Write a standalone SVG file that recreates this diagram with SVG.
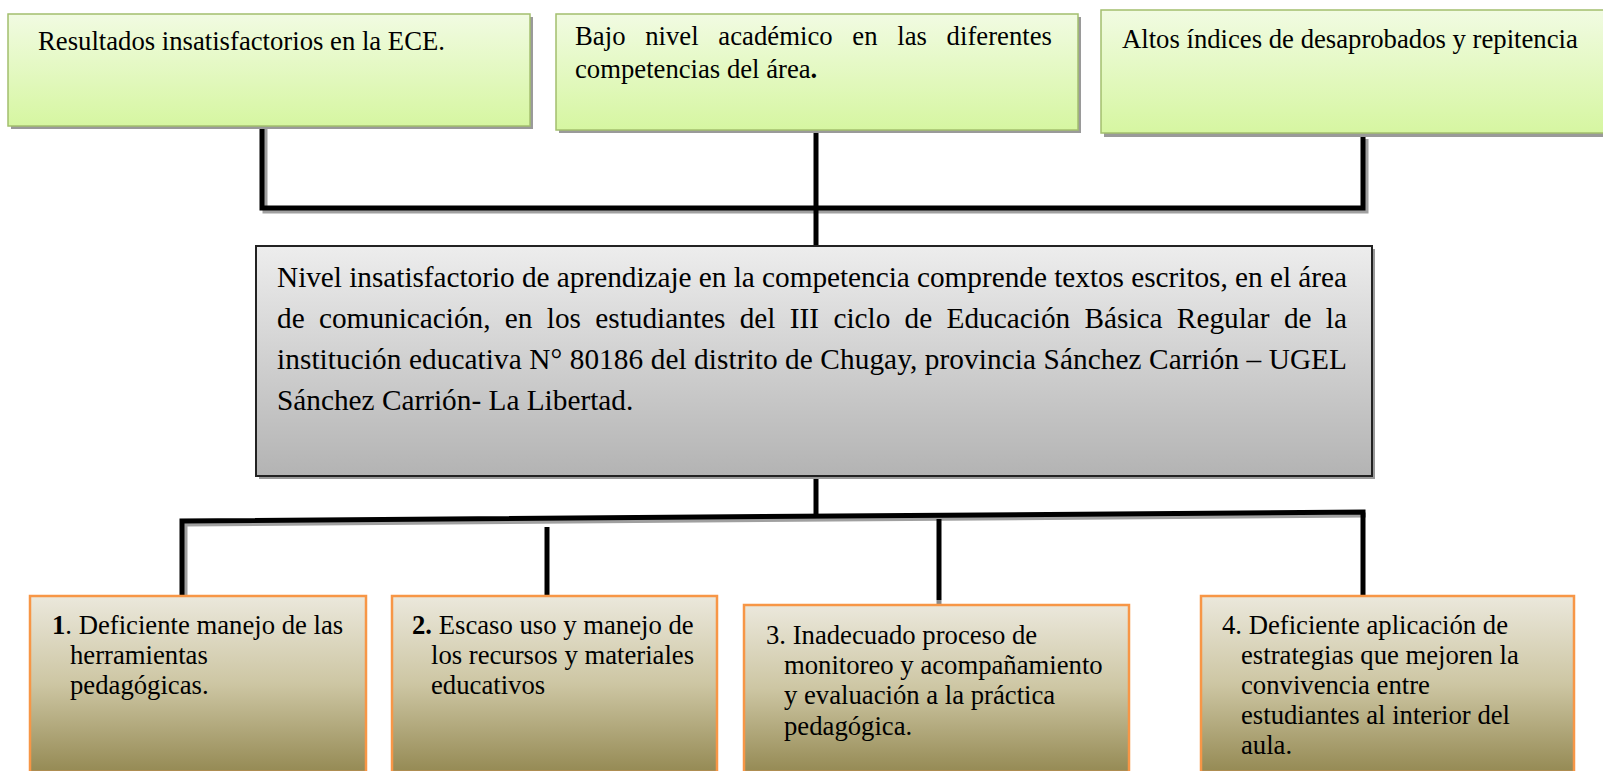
<svg xmlns="http://www.w3.org/2000/svg" width="1603" height="771" viewBox="0 0 1603 771">
<defs>
<linearGradient id="gGreen" x1="0" y1="0" x2="0" y2="1">
<stop offset="0" stop-color="#f1fbe2"/>
<stop offset="1" stop-color="#d6f6a1"/>
</linearGradient>
<linearGradient id="gGray" x1="0" y1="0" x2="0" y2="1">
<stop offset="0" stop-color="#ededed"/>
<stop offset="1" stop-color="#b3b3b3"/>
</linearGradient>
<linearGradient id="gOlive" x1="0" y1="0" x2="0" y2="1">
<stop offset="0" stop-color="#ebe8dc"/>
<stop offset="0.5" stop-color="#cdc6a3"/>
<stop offset="1" stop-color="#958a54"/>
</linearGradient>
</defs>
<style>
.t{font-family:"Liberation Serif","Times New Roman",serif;fill:#000}
.top{font-size:26.7px}
.mid{font-size:29.3px}
.bot{font-size:26.7px}
.shadow{fill:#9a9a9a}
.green{fill:url(#gGreen);stroke:#a3bf6e;stroke-width:1.5}
.gray{fill:url(#gGray);stroke:#222;stroke-width:2}
.olive{fill:url(#gOlive);stroke:#f79646;stroke-width:2.5}
.ln{fill:none;stroke:#000;stroke-width:5}
.lns{fill:none;stroke:#a0a0a0;stroke-width:5}
</style>
<rect width="1603" height="771" fill="#fff"/>

<g id="connectors">
<path class="lns" d="M265 129 V211 H1366 V139"/>
<path class="ln" d="M262 126 V208 H1363 V136"/>
<path class="ln" d="M816 130 V246"/>
<path class="lns" d="M185 599 V524 L1366 515"/>
<path class="ln" d="M182 596 V521 L1363 512 V596"/>
<path class="ln" d="M816 476 V516"/>
<path class="ln" d="M547 527 V598"/>
<path stroke="#888" stroke-width="5" d="M547 598 V608"/>
<path class="ln" d="M939 519 V600"/>
<path stroke="#888" stroke-width="5" d="M939 600 V606"/>
</g>

<g id="n-resultados">
<rect class="shadow" x="11" y="17" width="522" height="112"/>
<rect class="green" x="8" y="14" width="522" height="112"/>
<text class="t top" x="38" y="50">Resultados insatisfactorios en la ECE.</text>
</g>

<g id="n-bajo">
<rect class="shadow" x="559" y="17" width="522" height="116"/>
<rect class="green" x="556" y="14" width="522" height="116"/>
<text class="t top" x="575" y="45" word-spacing="13" textLength="477" lengthAdjust="spacing">Bajo nivel académico en las diferentes</text>
<text class="t top" x="575" y="78">competencias del área<tspan font-weight="bold">.</tspan></text>
</g>

<g id="n-altos">
<rect class="shadow" x="1104" y="14" width="510" height="123"/>
<rect class="green" x="1101" y="10" width="510" height="123"/>
<text class="t top" x="1122" y="48">Altos índices de desaprobados y repitencia</text>
</g>

<g id="n-central">
<rect class="shadow" x="259" y="249" width="1116" height="230"/>
<rect class="gray" x="256" y="246" width="1116" height="230"/>
<text class="t mid" x="277" y="287" textLength="1070" lengthAdjust="spacing">Nivel insatisfactorio de aprendizaje en la competencia comprende textos escritos, en el área</text>
<text class="t mid" x="277" y="328" word-spacing="7" textLength="1070" lengthAdjust="spacing">de comunicación, en los estudiantes del III ciclo de Educación Básica Regular de la</text>
<text class="t mid" x="277" y="369" textLength="1070" lengthAdjust="spacing">institución educativa N° 80186 del distrito de Chugay, provincia Sánchez Carrión – UGEL</text>
<text class="t mid" x="277" y="410">Sánchez Carrión- La Libertad.</text>
</g>

<g id="n-causa1">
<rect class="olive" x="30" y="596" width="336" height="176"/>
<text class="t bot" x="52" y="634"><tspan font-weight="bold">1</tspan>. Deficiente manejo de las</text>
<text class="t bot" x="70" y="664">herramientas</text>
<text class="t bot" x="70" y="694">pedagógicas.</text>
</g>

<g id="n-causa2">
<rect class="olive" x="392" y="596" width="325" height="176"/>
<text class="t bot" x="412" y="634"><tspan font-weight="bold">2.</tspan> Escaso uso y manejo de</text>
<text class="t bot" x="431" y="664">los recursos y materiales</text>
<text class="t bot" x="431" y="694">educativos</text>
</g>

<g id="n-causa3">
<rect class="olive" x="744" y="605" width="385" height="167"/>
<text class="t bot" x="766" y="644">3. Inadecuado proceso de</text>
<text class="t bot" x="784" y="674">monitoreo y acompañamiento</text>
<text class="t bot" x="784" y="704">y evaluación a la práctica</text>
<text class="t bot" x="784" y="735">pedagógica.</text>
</g>

<g id="n-causa4">
<rect class="olive" x="1201" y="596" width="373" height="176"/>
<text class="t bot" x="1222" y="634">4. Deficiente aplicación de</text>
<text class="t bot" x="1241" y="664">estrategias que mejoren la</text>
<text class="t bot" x="1241" y="694">convivencia entre</text>
<text class="t bot" x="1241" y="724">estudiantes al interior del</text>
<text class="t bot" x="1241" y="754">aula.</text>
</g>
</svg>
